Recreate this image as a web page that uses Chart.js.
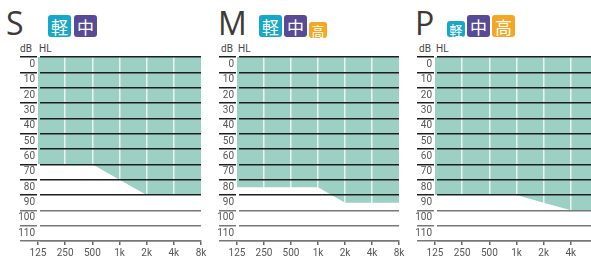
<!DOCTYPE html>
<html>
<head>
<meta charset="utf-8">
<script src="https://cdn.jsdelivr.net/npm/chart.js@4"></script>
<style>
  body { margin: 0; width: 591px; height: 260px; overflow: hidden; position: relative; background: #fff; }
  .letter { position: absolute; top: 7px; font: 32px/32px "Open Sans", sans-serif; color: #3e3a36; }
  .badge { position: absolute; color: #fff; border-radius: 3px; display: flex; align-items: center; justify-content: center;
           font-family: "Noto Sans CJK JP", sans-serif; line-height: 1; }
  .big { width: 23px; height: 22px; top: 15px; font-size: 17px; }
  .small { width: 18px; height: 16px; top: 21px; font-size: 13px; }
  .k { background: #17a8c9; }
  .c { background: #574a97; }
  .h { background: #f4a722; }
  .unit { position: absolute; top: 43px; font: 10px/11px Roboto, sans-serif; color: #444; }
  canvas { position: absolute; top: 50px; }
</style>
</head>
<body>
  <div class="letter" style="left:6px">S</div>
  <div class="badge big k" style="left:48px">軽</div>
  <div class="badge big c" style="left:74px">中</div>
  <span class="unit" style="left:20px">dB</span><span class="unit" style="left:39px">HL</span>

  <div class="letter" style="left:218px">M</div>
  <div class="badge big k" style="left:259px">軽</div>
  <div class="badge big c" style="left:284px">中</div>
  <div class="badge small h" style="left:309px;top:22px">高</div>
  <span class="unit" style="left:221px">dB</span><span class="unit" style="left:238px">HL</span>

  <div class="letter" style="left:415px">P</div>
  <div class="badge small k" style="left:447px">軽</div>
  <div class="badge big c" style="left:467px">中</div>
  <div class="badge big h" style="left:492px">高</div>
  <span class="unit" style="left:419px">dB</span><span class="unit" style="left:436px">HL</span>

  <canvas id="chartS" width="193" height="210" style="left:18px"></canvas>
  <canvas id="chartM" width="192" height="210" style="left:217px"></canvas>
  <canvas id="chartP" width="193" height="210" style="left:415px"></canvas>

<script>
// frequencies (Hz) along the bottom
const freqLabels = ["125", "250", "500", "1k", "2k", "4k", "8k"];

// lower edge of the fitting range, dB HL
const sLevels = [70, 70, 70, 80, 90, 90, 90];
const mLevels = [85, 85, 85, 85, 95, 95, 95];
const pLevels = [90, 90, 90, 90, 95, 100, 100];

// y axis: 0 .. 120 dB, labels sit in the band below each line
const yMin = 0;
const yMax = 120;
const yStep = 10;

const labelFont = { family: "Roboto, sans-serif", size: 10 };
const fillColor = "#9dd0c5";

function lineColor(ctx) {
  return ctx.tick && ctx.tick.value <= 90 ? "#1e1e1e" : "#777";
}

function makeChart(id, levels) {
  new Chart(document.getElementById(id), {
    type: "line",
    data: {
      labels: freqLabels,
      datasets: [{
        data: levels,
        fill: "end",
        backgroundColor: fillColor,
        borderWidth: 0,
        pointRadius: 0,
        tension: 0
      }]
    },
    options: {
      responsive: false,
      animation: false,
      layout: { padding: { top: 7, right: 10, left: 0, bottom: 0 } },
      plugins: { legend: { display: false }, tooltip: { enabled: false } },
      scales: {
        x: {
          type: "category",
          offset: false,
          afterFit: (scale) => { scale.height = 19; },
          grid: {
            z: 1,
            color: (ctx) => (ctx.index === 0 || ctx.index === freqLabels.length - 1) ? "rgba(0,0,0,0)" : "rgba(255,255,255,0.75)",
            lineWidth: 1.5,
            tickColor: "#666",
            tickLength: 4
          },
          border: { display: true, color: "#777", width: 1.5, z: 2 },
          ticks: { color: "#555", font: labelFont, padding: 2, maxRotation: 0, autoSkip: false }
        },
        y: {
          reverse: true,
          min: yMin,
          max: yMax,
          afterFit: (scale) => { scale.width = 20; },
          grid: {
            z: 2,
            color: lineColor,
            tickColor: lineColor,
            lineWidth: 1.5,
            tickLength: 18
          },
          border: { display: true, color: "#fff", width: 3 },
          ticks: {
            stepSize: yStep,
            autoSkip: false,
            color: "#555",
            font: labelFont,
            padding: -15,
            labelOffset: 7.6,
            callback: (v) => (v === yMax ? "" : v)
          }
        }
      }
    }
  });
}

makeChart("chartS", sLevels);
makeChart("chartM", mLevels);
makeChart("chartP", pLevels);
</script>
</body>
</html>
